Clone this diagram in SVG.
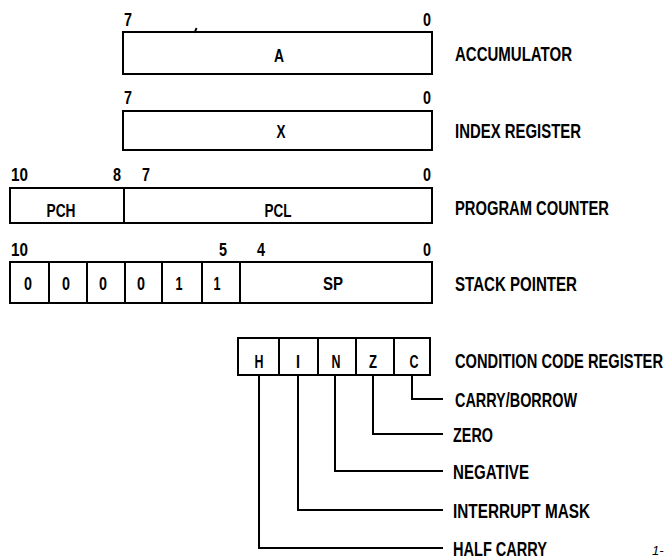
<svg xmlns="http://www.w3.org/2000/svg" width="668" height="558" viewBox="0 0 668 558">
<style>
  .box { fill: #fff; stroke: #000; stroke-width: 2; }
  .div { stroke: #000; stroke-width: 2; fill: none; }
  .con { stroke: #000; stroke-width: 2; fill: none; }
  text { font-family: "Liberation Sans", Arial, sans-serif; font-weight: bold; fill: #000; }
  .lbl { font-size: 20.5px; }
  .num { font-size: 19px; }
  .c { text-anchor: middle; }
  .e { text-anchor: end; }
  .fig { font-size: 13px; font-style: italic; font-weight: normal; }
</style>
<rect width="668" height="558" fill="#fff"/>

<g id="accumulator">
  <rect class="box" x="123" y="32" width="309" height="42"/>
  <text class="num" x="124" y="26" textLength="8" lengthAdjust="spacingAndGlyphs">7</text>
  <text class="num e" x="431" y="26" textLength="8" lengthAdjust="spacingAndGlyphs">0</text>
  <text class="num c" x="279" y="62" textLength="10" lengthAdjust="spacingAndGlyphs">A</text>
  <text class="lbl" x="455" y="61" textLength="117" lengthAdjust="spacingAndGlyphs">ACCUMULATOR</text>
  <path class="div" d="M194.5 33 L196.5 28" stroke-width="1.5"/>
</g>

<g id="index-register">
  <rect class="box" x="123" y="111" width="309" height="39"/>
  <text class="num" x="124" y="104" textLength="8" lengthAdjust="spacingAndGlyphs">7</text>
  <text class="num e" x="431" y="104" textLength="8" lengthAdjust="spacingAndGlyphs">0</text>
  <text class="num c" x="281" y="138" textLength="9" lengthAdjust="spacingAndGlyphs">X</text>
  <text class="lbl" x="455" y="138" textLength="126" lengthAdjust="spacingAndGlyphs">INDEX REGISTER</text>
</g>

<g id="program-counter">
  <rect class="box" x="10" y="188" width="422" height="35"/>
  <line class="div" x1="124" y1="188" x2="124" y2="223"/>
  <text class="num" x="11" y="181" textLength="17" lengthAdjust="spacingAndGlyphs">10</text>
  <text class="num e" x="121" y="181" textLength="8" lengthAdjust="spacingAndGlyphs">8</text>
  <text class="num" x="142" y="181" textLength="8" lengthAdjust="spacingAndGlyphs">7</text>
  <text class="num e" x="431" y="181" textLength="8" lengthAdjust="spacingAndGlyphs">0</text>
  <text class="num c" x="61" y="217" textLength="29" lengthAdjust="spacingAndGlyphs">PCH</text>
  <text class="num c" x="278" y="217" textLength="27" lengthAdjust="spacingAndGlyphs">PCL</text>
  <text class="lbl" x="455" y="215" textLength="154" lengthAdjust="spacingAndGlyphs">PROGRAM COUNTER</text>
</g>

<g id="stack-pointer">
  <rect class="box" x="10" y="262" width="422" height="41"/>
  <path class="div" d="M49 262V303M87 262V303M125 262V303M162 262V303M202 262V303M240 262V303"/>
  <text class="num" x="11" y="256" textLength="17" lengthAdjust="spacingAndGlyphs">10</text>
  <text class="num c" x="223" y="256" textLength="8" lengthAdjust="spacingAndGlyphs">5</text>
  <text class="num c" x="261" y="256" textLength="8" lengthAdjust="spacingAndGlyphs">4</text>
  <text class="num e" x="431" y="256" textLength="8" lengthAdjust="spacingAndGlyphs">0</text>
  <text class="num c" x="28" y="290" textLength="8" lengthAdjust="spacingAndGlyphs">0</text>
  <text class="num c" x="66" y="290" textLength="8" lengthAdjust="spacingAndGlyphs">0</text>
  <text class="num c" x="103" y="290" textLength="8" lengthAdjust="spacingAndGlyphs">0</text>
  <text class="num c" x="141" y="290" textLength="8" lengthAdjust="spacingAndGlyphs">0</text>
  <text class="num c" x="179" y="290" textLength="7" lengthAdjust="spacingAndGlyphs">1</text>
  <text class="num c" x="217" y="290" textLength="7" lengthAdjust="spacingAndGlyphs">1</text>
  <text class="num c" x="333" y="290" textLength="20" lengthAdjust="spacingAndGlyphs">SP</text>
  <text class="lbl" x="455" y="291" textLength="122" lengthAdjust="spacingAndGlyphs">STACK POINTER</text>
</g>

<g id="condition-code-register">
  <rect class="box" x="238" y="338" width="192" height="37"/>
  <path class="div" d="M279 338V375M318 338V375M356 338V375M394 338V375"/>
  <text class="num c" x="259" y="368" textLength="9" lengthAdjust="spacingAndGlyphs">H</text>
  <text class="num c" x="298" y="368" textLength="4" lengthAdjust="spacingAndGlyphs">I</text>
  <text class="num c" x="336" y="368" textLength="9" lengthAdjust="spacingAndGlyphs">N</text>
  <text class="num c" x="373" y="368" textLength="8" lengthAdjust="spacingAndGlyphs">Z</text>
  <text class="num c" x="414" y="368" textLength="9" lengthAdjust="spacingAndGlyphs">C</text>
  <text class="lbl" x="455" y="368" textLength="208" lengthAdjust="spacingAndGlyphs">CONDITION CODE REGISTER</text>
</g>

<g id="connectors">
  <path class="con" d="M412 375V399H443"/>
  <path class="con" d="M373 375V434H443"/>
  <path class="con" d="M335 375V471H443"/>
  <path class="con" d="M298 375V510H443"/>
  <path class="con" d="M259 375V548H443"/>
</g>

<g id="flag-labels">
  <text class="lbl" x="455" y="407" textLength="122" lengthAdjust="spacingAndGlyphs">CARRY/BORROW</text>
  <text class="lbl" x="453" y="442" textLength="40" lengthAdjust="spacingAndGlyphs">ZERO</text>
  <text class="lbl" x="453" y="479" textLength="76" lengthAdjust="spacingAndGlyphs">NEGATIVE</text>
  <text class="lbl" x="453" y="518" textLength="137" lengthAdjust="spacingAndGlyphs">INTERRUPT MASK</text>
  <text class="lbl" x="453" y="556" textLength="94" lengthAdjust="spacingAndGlyphs">HALF CARRY</text>
</g>

<text class="fig" x="652" y="555">1-</text>
</svg>
